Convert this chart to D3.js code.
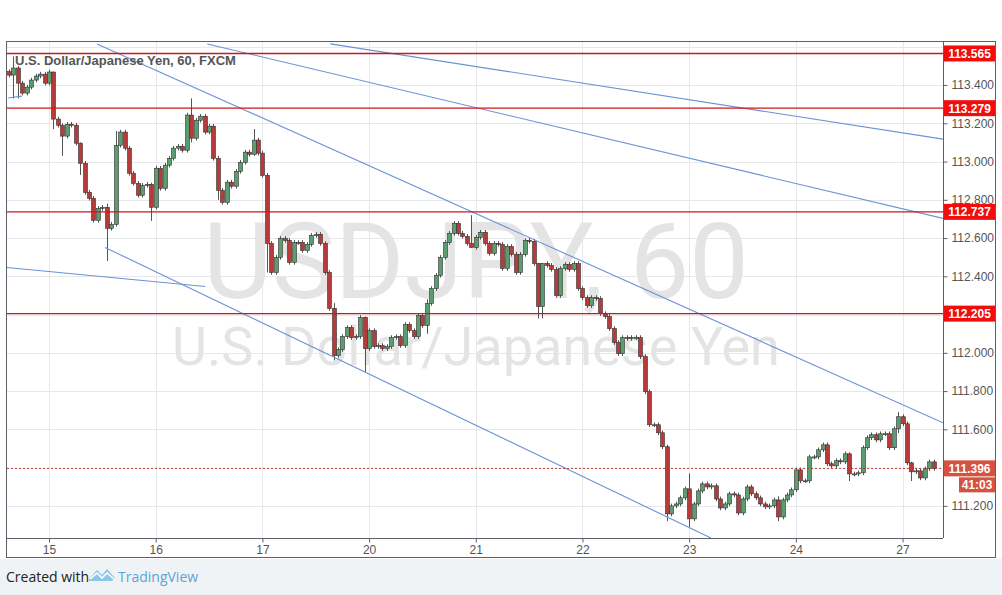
<!DOCTYPE html>
<html>
<head>
<meta charset="utf-8">
<script src="https://cdn.jsdelivr.net/npm/d3@7"></script>
<style>
  body { margin: 0; background: #f0f3f6; font-family: "Open Sans", "DejaVu Sans", sans-serif; }
</style>
</head>
<body>
<svg width="1002" height="595"></svg>
<script>
// hourly closes, USDJPY 60 min (open = previous close)
var closes = [
  113.452, 113.489, 113.410, 113.358, 113.389, 113.426, 113.447, 113.457, 113.410, 113.468,
  113.222, 113.190, 113.133, 113.195, 113.190, 113.096, 112.991, 112.839, 112.808, 112.693,
  112.755, 112.761, 112.651, 112.672, 113.085, 113.154, 113.070, 112.939, 112.886, 112.824,
  112.876, 112.881, 112.761, 112.965, 112.860, 112.981, 113.017, 113.070, 113.080, 113.059,
  113.243, 113.122, 113.216, 113.237, 113.154, 113.185, 113.017, 112.850, 112.787, 112.892,
  112.871, 112.949, 112.996, 113.049, 113.038, 113.112, 113.044, 112.928, 112.572, 112.420,
  112.499, 112.598, 112.588, 112.473, 112.577, 112.577, 112.535, 112.567, 112.614, 112.619,
  112.572, 112.420, 112.232, 111.986, 112.017, 112.085, 112.132, 112.080, 112.085, 112.185,
  112.022, 112.116, 112.033, 112.038, 112.022, 112.033, 112.080, 112.085, 112.038, 112.148,
  112.116, 112.085, 112.195, 112.143, 112.258, 112.336, 112.405, 112.499, 112.577, 112.625,
  112.677, 112.625, 112.609, 112.572, 112.551, 112.604, 112.630, 112.572, 112.520, 112.572,
  112.567, 112.441, 112.556, 112.515, 112.420, 112.515, 112.588, 112.583, 112.467, 112.242,
  112.467, 112.457, 112.436, 112.300, 112.441, 112.462, 112.436, 112.467, 112.336, 112.289,
  112.247, 112.289, 112.284, 112.205, 112.190, 112.127, 112.054, 111.996, 112.080, 112.075,
  112.080, 112.080, 111.980, 111.797, 111.624, 111.624, 111.582, 111.509, 111.158, 111.200,
  111.210, 111.242, 111.289, 111.132, 111.210, 111.278, 111.315, 111.299, 111.305, 111.236,
  111.189, 111.210, 111.263, 111.257, 111.163, 111.236, 111.299, 111.263, 111.242, 111.210,
  111.195, 111.200, 111.231, 111.142, 111.231, 111.257, 111.284, 111.388, 111.331, 111.331,
  111.456, 111.456, 111.493, 111.519, 111.420, 111.409, 111.436, 111.430, 111.472, 111.367,
  111.367, 111.373, 111.504, 111.556, 111.572, 111.545, 111.577, 111.577, 111.504, 111.603,
  111.666, 111.629, 111.425, 111.378, 111.383, 111.346, 111.394, 111.430, 111.396
];
var firstOpen = 113.47;
// long wicks [index, high, low]
var wicks = [
  [1, 113.55, 113.33], [2, 113.50, 113.33], [10, 113.47, 113.17], [12, 113.20, 113.03],
  [16, 113.10, 112.93], [22, 112.78, 112.48], [24, 113.16, 112.66], [32, 112.89, 112.69],
  [41, 113.33, 113.10], [47, 113.03, 112.80], [55, 113.17, 113.03], [58, 112.94, 112.42],
  [73, 112.26, 111.96], [80, 112.19, 111.90], [94, 112.28, 112.10], [104, 112.72, 112.55],
  [119, 112.47, 112.18], [120, 112.47, 112.18], [148, 111.52, 111.12], [153, 111.37, 111.09],
  [173, 111.25, 111.12], [189, 111.48, 111.33], [200, 111.69, 111.58], [203, 111.43, 111.33]
];
// day labels and the candle they sit on
var dayLabels = ["15", "16", "17", "20", "21", "22", "23", "24", "27"];
var dayIndex  = [9, 33, 57, 81, 105, 129, 153, 177, 201];
var gridPrices = [111.2, 111.4, 111.6, 111.8, 112.0, 112.2, 112.4, 112.6, 112.8, 113.0, 113.2, 113.4, 113.6];
// labels hidden behind the level boxes are left out
var priceTicks = [111.2, 111.6, 111.8, 112.0, 112.4, 112.6, 112.8, 113.0, 113.2, 113.4];
var levels = [113.565, 113.279, 112.737, 112.205];
var lastPrice = 111.396;
// trend lines [i1, p1, i2, p2]
var trendLines = [
  [19.8, 113.615, 210.1, 111.634],
  [44.6, 113.615, 210.1, 112.703],
  [72.3, 113.615, 210.1, 113.117],
  [21.6, 112.551, 157.9, 111.032],
  [-0.45, 112.446, 44.1, 112.347],
  [-0.2, 113.332, 2.9, 113.342]
];

var svg = d3.select("svg");
var pL = 7, pR = 943, pT = 42, pB = 538;
var font = "Arial, 'Liberation Sans', sans-serif";

// frame
svg.append("rect").attr("x", 0).attr("y", 0).attr("width", 1002).attr("height", 559).attr("fill", "#fff");
svg.append("rect").attr("x", 6.5).attr("y", 41.5).attr("width", 989).attr("height", 516)
  .attr("fill", "#fff").attr("stroke", "#5d606b");

var x = d3.scaleLinear().domain([-0.45, 210.1]).range([pL, pR]);
var y = d3.scaleLinear().domain([111.032, 113.625]).range([pB, pT]);

var plot = svg.append("g");
plot.append("clipPath").attr("id", "clip").append("rect")
  .attr("x", pL).attr("y", pT).attr("width", pR - pL).attr("height", pB - pT);

// grid
plot.selectAll(".hg").data(gridPrices).enter().append("line")
  .attr("x1", pL).attr("x2", pR).attr("y1", function(d) { return Math.round(y(d)) + 0.5; }).attr("y2", function(d) { return Math.round(y(d)) + 0.5; })
  .attr("stroke", "#e6e9ec");
plot.selectAll(".vg").data(dayIndex).enter().append("line")
  .attr("x1", function(d) { return Math.round(x(d)) + 0.5; }).attr("x2", function(d) { return Math.round(x(d)) + 0.5; })
  .attr("y1", pT).attr("y2", pB).attr("stroke", "#e6e9ec");

// watermark
plot.append("text").attr("x", 476).attr("y", 298).attr("text-anchor", "middle")
  .attr("font-size", 106).attr("fill", "#e4e4e4").attr("font-family", "Roboto, sans-serif").text("USDJPY, 60");
plot.append("text").attr("x", 476).attr("y", 365).attr("text-anchor", "middle")
  .attr("font-size", 54).attr("fill", "#e4e4e4").attr("font-family", "Roboto, sans-serif").text("U.S. Dollar/Japanese Yen");

// candles
var wickMap = {};
wicks.forEach(function(w) { wickMap[w[0]] = w; });
var candles = closes.map(function(c, i) {
  var o = i === 0 ? firstOpen : closes[i - 1];
  var w = wickMap[i];
  var hi = w ? w[1] : Math.max(o, c) + 0.012;
  var lo = w ? w[2] : Math.min(o, c) - 0.012;
  return {i: i, o: o, c: c, h: hi, l: lo};
});
var cg = plot.append("g").attr("clip-path", "url(#clip)");
cg.selectAll(".wick").data(candles).enter().append("line")
  .attr("x1", function(d) { return Math.round(x(d.i)) + 0.5; }).attr("x2", function(d) { return Math.round(x(d.i)) + 0.5; })
  .attr("y1", function(d) { return y(d.h); }).attr("y2", function(d) { return y(d.l); })
  .attr("stroke", "#555");
cg.selectAll(".body").data(candles).enter().append("rect")
  .attr("x", function(d) { return Math.round(x(d.i)) - 1.5; })
  .attr("y", function(d) { return y(Math.max(d.o, d.c)); })
  .attr("width", 4)
  .attr("height", function(d) { return Math.max(1, Math.abs(y(d.o) - y(d.c))); })
  .attr("fill", function(d) { return d.c >= d.o ? "#5a9e6f" : "#b83b3b"; })
  .attr("stroke", "#333").attr("stroke-width", 0.6);

// trend lines
cg.selectAll(".tl").data(trendLines).enter().append("line")
  .attr("x1", function(d) { return x(d[0]); }).attr("y1", function(d) { return y(d[1]); })
  .attr("x2", function(d) { return x(d[2]); }).attr("y2", function(d) { return y(d[3]); })
  .attr("stroke", "#6a93d4").attr("stroke-width", 1.1);

// horizontal levels
cg.selectAll(".lv").data(levels).enter().append("line")
  .attr("x1", pL).attr("x2", pR).attr("y1", function(d) { return y(d); }).attr("y2", function(d) { return y(d); })
  .attr("stroke", "#d0141a").attr("stroke-width", 1.3);
cg.append("line").attr("x1", pL).attr("x2", pR).attr("y1", y(lastPrice)).attr("y2", y(lastPrice))
  .attr("stroke", "#c0392b").attr("stroke-dasharray", "2,2");

// y axis
var yAxis = svg.append("g").attr("transform", "translate(" + (pR + 0.5) + ",0)")
  .call(d3.axisRight(y).tickValues(priceTicks).tickFormat(d3.format(".3f")).tickSize(4).tickPadding(4));
yAxis.select(".domain").attr("stroke", "#5d606b").attr("d", "M0," + pT + "V" + pB);
yAxis.selectAll(".tick line").attr("stroke", "#5d606b");
yAxis.selectAll("text").attr("font-size", 12).attr("fill", "#555").attr("font-family", font);

// x axis
var xAxis = svg.append("g").attr("transform", "translate(0," + (pB + 0.5) + ")")
  .call(d3.axisBottom(x).tickValues(dayIndex).tickFormat(function(d, i) { return dayLabels[i]; }).tickSize(4).tickPadding(3));
xAxis.select(".domain").attr("stroke", "#5d606b").attr("d", "M" + pL + ",0H" + pR);
xAxis.selectAll(".tick line").attr("stroke", "#5d606b");
xAxis.selectAll("text").attr("font-size", 12).attr("fill", "#555").attr("font-family", font);

// level labels
var labs = svg.selectAll(".lab").data(levels).enter().append("g")
  .attr("transform", function(d) { return "translate(" + (pR + 1) + "," + y(d) + ")"; });
labs.append("rect").attr("x", 0).attr("y", -8).attr("width", 51).attr("height", 16).attr("fill", "#f20d0d");
labs.append("text").attr("x", 25.5).attr("y", 4.5).attr("text-anchor", "middle").attr("fill", "#fff")
  .attr("font-size", 12).attr("font-weight", "bold").attr("font-family", font)
  .text(function(d) { return d.toFixed(3); });
var lp = svg.append("g").attr("transform", "translate(" + (pR + 1) + "," + y(lastPrice) + ")");
lp.append("rect").attr("x", 0).attr("y", -8).attr("width", 51).attr("height", 16).attr("fill", "#d4523f");
lp.append("text").attr("x", 25.5).attr("y", 4.5).attr("text-anchor", "middle").attr("fill", "#fff")
  .attr("font-size", 12).attr("font-weight", "bold").attr("font-family", font).text(lastPrice.toFixed(3));
lp.append("rect").attr("x", 15).attr("y", 9).attr("width", 36).attr("height", 15).attr("fill", "#d4523f");
lp.append("text").attr("x", 33).attr("y", 21).attr("text-anchor", "middle").attr("fill", "#fff")
  .attr("font-size", 12).attr("font-weight", "bold").attr("font-family", font).text("41:03");

// title
svg.append("text").attr("x", 15).attr("y", 65).attr("font-size", 13).attr("font-weight", "bold")
  .attr("fill", "#555").attr("font-family", font).text("U.S. Dollar/Japanese Yen, 60, FXCM");

// footer
svg.append("text").attr("x", 6).attr("y", 582).attr("font-size", 14).attr("fill", "#222")
  .attr("font-family", "'Open Sans', sans-serif").text("Created with");
var logo = svg.append("g").attr("transform", "translate(88,568)");
logo.append("path").attr("d", "M0,12 L9,2 L14,7 L19,1 L27,10 L24,13 L2,13 Z").attr("fill", "#8ec5e8");
logo.append("path").attr("d", "M2,11 L9,5 L14,10 L19,5 L26,11").attr("fill", "none").attr("stroke", "#fff").attr("stroke-width", 1.6);
svg.append("text").attr("x", 118).attr("y", 582).attr("font-size", 14).attr("fill", "#5aa5d6")
  .attr("font-family", "'Open Sans', sans-serif").text("TradingView");
</script>
</body>
</html>
